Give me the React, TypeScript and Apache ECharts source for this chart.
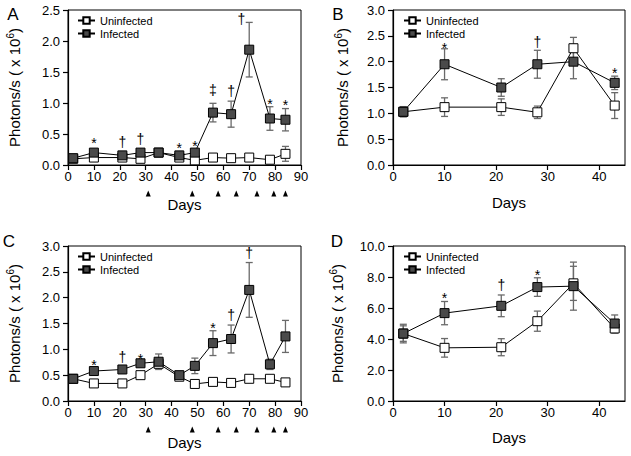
import React, { useEffect, useRef } from 'react';
import * as echarts from 'echarts';

const FONT = '"Liberation Sans", Arial, Helvetica, sans-serif';

// ---- data ----
const daysLong = [2, 10, 21, 28, 35, 43, 49, 56, 63, 70, 78, 84];
const daysShort = [2, 10, 21, 28, 35, 43];

const aUninf = [0.1, 0.12, 0.12, 0.1, 0.2, 0.12, 0.075, 0.12, 0.11, 0.12, 0.085, 0.18];
const aUninfErr = [0.02, 0.02, 0.02, 0.02, 0.03, 0.02, 0.02, 0.02, 0.02, 0.02, 0.03, 0.12];
const aInf = [0.11, 0.2, 0.155, 0.2, 0.2, 0.155, 0.2, 0.845, 0.82, 1.86, 0.75, 0.73];
const aInfErr = [0.02, 0.03, 0.03, 0.03, 0.04, 0.03, 0.03, 0.15, 0.21, 0.44, 0.19, 0.18];

const bUninf = [1.03, 1.12, 1.12, 1.02, 2.26, 1.15];
const bUninfErr = [0.08, 0.18, 0.16, 0.12, 0.21, 0.25];
const bInf = [1.03, 1.95, 1.5, 1.95, 2.0, 1.59];
const bInfErr = [0.1, 0.3, 0.17, 0.27, 0.33, 0.13];

const cUninf = [0.43, 0.34, 0.34, 0.5, 0.72, 0.47, 0.33, 0.37, 0.35, 0.43, 0.43, 0.36];
const cUninfErr = [0.03, 0.03, 0.03, 0.04, 0.08, 0.03, 0.03, 0.03, 0.03, 0.03, 0.05, 0.05];
const cInf = [0.43, 0.58, 0.61, 0.73, 0.76, 0.5, 0.68, 1.12, 1.2, 2.15, 0.71, 1.25];
const cInfErr = [0.03, 0.07, 0.07, 0.05, 0.15, 0.05, 0.15, 0.24, 0.27, 0.53, 0.1, 0.31];

const dUninf = [4.35, 3.43, 3.47, 5.15, 7.59, 4.68];
const dUninfErr = [0.5, 0.6, 0.55, 0.65, 1.1, 0.3];
const dInf = [4.35, 5.67, 6.14, 7.35, 7.41, 5.0];
const dInfErr = [0.6, 0.75, 0.7, 0.6, 1.55, 0.55];

// significance marks: [day, y, symbol]
const aMarks: [number, number, string][] = [
  [10, 0.4, '*'], [21, 0.37, '†'], [28, 0.42, '†'], [43, 0.32, '*'], [49, 0.36, '*'],
  [56, 1.21, '‡'], [63, 1.19, '†'], [67, 2.36, '†'], [78, 1.03, '*'], [84, 1.02, '*'],
];
const bMarks: [number, number, string][] = [[10, 2.32, '*'], [28, 2.39, '†'], [43, 1.84, '*']];
const cMarks: [number, number, string][] = [
  [10, 0.76, '*'], [21, 0.85, '†'], [28, 0.88, '*'], [56, 1.48, '*'], [63, 1.66, '†'], [70, 2.86, '†'],
];
const dMarks: [number, number, string][] = [[10, 6.83, '*'], [21, 7.48, '†'], [28, 8.34, '*']];

// treatment days (arrowheads under the x axis)
const arrowDays = [31, 48, 58, 65, 73, 79.5, 84];

const panels = [
  { letter: 'A', days: daysLong, u: aUninf, ue: aUninfErr, i: aInf, ie: aInfErr, marks: aMarks,
    yMax: 2.5, yInt: 0.5, xMax: 90, arrows: true,
    grid: { left: 68, top: 10, width: 233, height: 155 }, yGap: 45, xGap: 32,
    leg: { left: 77, top: 15 }, letterPos: [13, 14] },
  { letter: 'B', days: daysShort, u: bUninf, ue: bUninfErr, i: bInf, ie: bInfErr, marks: bMarks,
    yMax: 3, yInt: 0.5, xMax: 45, arrows: false,
    grid: { left: 393, top: 10, width: 232, height: 155 }, yGap: 42, xGap: 30,
    leg: { left: 403, top: 15 }, letterPos: [338, 14] },
  { letter: 'C', days: daysLong, u: cUninf, ue: cUninfErr, i: cInf, ie: cInfErr, marks: cMarks,
    yMax: 3, yInt: 0.5, xMax: 90, arrows: true,
    grid: { left: 68, top: 246, width: 233, height: 155 }, yGap: 45, xGap: 34,
    leg: { left: 77, top: 251 }, letterPos: [9, 241] },
  { letter: 'D', days: daysShort, u: dUninf, ue: dUninfErr, i: dInf, ie: dInfErr, marks: dMarks,
    yMax: 10, yInt: 2, xMax: 45, arrows: false,
    grid: { left: 393, top: 246, width: 232, height: 155 }, yGap: 47, xGap: 29,
    leg: { left: 403, top: 251 }, letterPos: [337, 241] },
];

function errorRender(params: any, api: any) {
  const x = api.value(0);
  const y = api.value(1);
  const e = api.value(2);
  const top = api.coord([x, y + e]);
  const bot = api.coord([x, y - e]);
  const w = 3.5;
  const style = { stroke: '#6a6a6a', lineWidth: 1.3 };
  return {
    type: 'group',
    children: [
      { type: 'line', shape: { x1: top[0], y1: top[1], x2: bot[0], y2: bot[1] }, style },
      { type: 'line', shape: { x1: top[0] - w, y1: top[1], x2: top[0] + w, y2: top[1] }, style },
      { type: 'line', shape: { x1: bot[0] - w, y1: bot[1], x2: bot[0] + w, y2: bot[1] }, style },
    ],
  };
}

export default function App() {
  const ref = useRef<HTMLDivElement>(null);
  useEffect(() => {
    if (!ref.current) return;
    const chart = echarts.init(ref.current, null, { renderer: 'svg' });

    const grids: any[] = [];
    const xAxes: any[] = [];
    const yAxes: any[] = [];
    const legends: any[] = [];
    const series: any[] = [];
    const graphics: any[] = [];

    panels.forEach((p, k) => {
      grids.push({ ...p.grid, show: true, borderColor: '#000', borderWidth: 1, backgroundColor: 'transparent', outerBoundsMode: 'none' });
      const xa: any = {
        type: 'value', gridIndex: k, min: 0, max: p.xMax, interval: 10,
        name: 'Days', nameLocation: 'middle', nameGap: p.xGap,
        nameTextStyle: { fontSize: 15, color: '#000', fontFamily: FONT },
        axisLine: { show: true, lineStyle: { color: '#000', width: 1.2 } },
        axisTick: { show: true, length: 5, lineStyle: { color: '#000', width: 1.2 } },
        axisLabel: { fontSize: 13, color: '#000', fontFamily: FONT, margin: 5 },
        splitLine: { show: false },
      };
      if (p.xMax === 45) {
        xa.axisTick.customValues = [0, 10, 20, 30, 40];
        xa.axisLabel.customValues = [0, 10, 20, 30, 40];
      }
      xAxes.push(xa);
      yAxes.push({
        type: 'value', gridIndex: k, min: 0, max: p.yMax, interval: p.yInt,
        name: 'Photons/s ( x 10{sup|6})', nameLocation: 'middle', nameGap: p.yGap,
        nameTextStyle: {
          fontSize: 15, color: '#000', fontFamily: FONT,
          rich: { sup: { fontSize: 10, fontFamily: FONT, color: '#000', padding: [0, 0, 8, 0] } },
        },
        axisLine: { show: true, lineStyle: { color: '#000', width: 1.2 } },
        axisTick: { show: true, length: 5, lineStyle: { color: '#000', width: 1.2 } },
        axisLabel: { fontSize: 13, color: '#000', fontFamily: FONT, margin: 8, formatter: (v: number) => v.toFixed(1) },
        splitLine: { show: false },
      });
      legends.push({
        data: ['Uninfected', 'Infected'], left: p.leg.left, top: p.leg.top, orient: 'vertical',
        itemWidth: 17, itemHeight: 8, itemGap: 2, selectedMode: false, padding: 0,
        textStyle: { fontSize: 11, color: '#000', fontFamily: FONT },
      });

      const errU = p.days.map((d, j) => [d, p.u[j], p.ue[j]]);
      const errI = p.days.map((d, j) => [d, p.i[j], p.ie[j]]);
      series.push({ type: 'custom', name: 'errU' + k, xAxisIndex: k, yAxisIndex: k, data: errU, renderItem: errorRender, encode: { x: 0, y: 1 }, z: 1, silent: true, clip: false, itemStyle: { color: '#6a6a6a' } });
      series.push({ type: 'custom', name: 'errI' + k, xAxisIndex: k, yAxisIndex: k, data: errI, renderItem: errorRender, encode: { x: 0, y: 1 }, z: 1, silent: true, clip: false, itemStyle: { color: '#6a6a6a' } });
      series.push({
        type: 'line', name: 'Uninfected', xAxisIndex: k, yAxisIndex: k,
        data: p.days.map((d, j) => [d, p.u[j]]),
        symbol: 'rect', symbolSize: 9, showAllSymbol: true,
        lineStyle: { color: '#000', width: 1 },
        itemStyle: { color: '#fff', borderColor: '#000', borderWidth: 1 },
        z: 3,
      });
      series.push({
        type: 'line', name: 'Infected', xAxisIndex: k, yAxisIndex: k,
        data: p.days.map((d, j) => [d, p.i[j]]),
        symbol: 'rect', symbolSize: 9, showAllSymbol: true,
        lineStyle: { color: '#000', width: 1 },
        itemStyle: { color: '#4a4a4a', borderColor: '#000', borderWidth: 1 },
        z: 4,
      });
      const marks = p.marks;
      series.push({
        type: 'custom', name: 'marks' + k, xAxisIndex: k, yAxisIndex: k,
        data: marks.map((m) => [m[0], m[1]]), encode: { x: 0, y: 1 }, clip: false, z: 5, silent: true,
        itemStyle: { color: '#000' },
        renderItem: (params: any, api: any) => {
          const m = marks[params.dataIndex];
          const pt = api.coord([m[0], m[1]]);
          const isStar = m[2] === '*';
          return {
            type: 'text', x: pt[0], y: pt[1] + (isStar ? 3 : 0),
            style: { text: m[2], fontSize: 14, fontFamily: FONT, fill: '#000', align: 'center', verticalAlign: 'middle' },
          };
        },
      });
      if (p.arrows) {
        series.push({
          type: 'custom', name: 'arrows' + k, xAxisIndex: k, yAxisIndex: k,
          data: arrowDays.map((d) => [d, 0]), encode: { x: 0, y: 1 }, clip: false, z: 5, silent: true,
          itemStyle: { color: '#000' },
          renderItem: (params: any, api: any) => {
            const pt = api.coord([api.value(0), 0]);
            const cy = pt[1] + 29;
            return {
              type: 'polygon',
              shape: { points: [[pt[0], cy - 3.5], [pt[0] - 2.5, cy + 2.5], [pt[0] + 2.5, cy + 2.5]] },
              style: { fill: '#000' },
            };
          },
        });
      }
      graphics.push({
        type: 'text', x: p.letterPos[0], y: p.letterPos[1],
        style: { text: p.letter, fontSize: 17, fontFamily: FONT, fill: '#000', align: 'center', verticalAlign: 'middle' },
      });
    });

    chart.setOption({
      animation: false,
      backgroundColor: '#fff',
      grid: grids,
      xAxis: xAxes,
      yAxis: yAxes,
      legend: legends,
      series,
      graphic: graphics,
    });
    return () => chart.dispose();
  }, []);
  return <div ref={ref} style={{ position: 'fixed', left: 0, top: 0, width: 631, height: 456 }} />;
}
